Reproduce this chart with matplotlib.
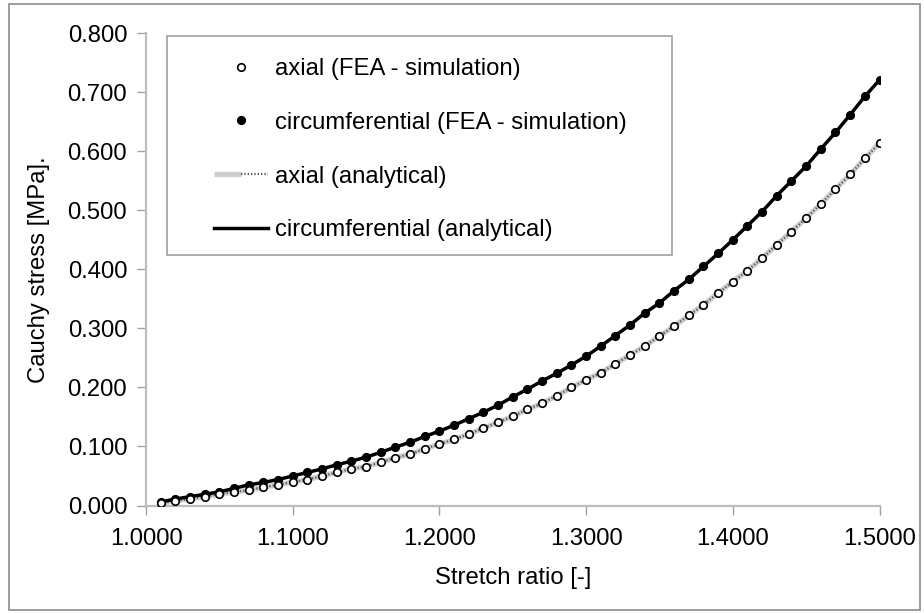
import matplotlib
matplotlib.use("Agg")
import matplotlib.pyplot as plt
from matplotlib.patches import Rectangle
from matplotlib.legend_handler import HandlerTuple
from matplotlib.ticker import FormatStrFormatter

plt.rcParams['font.family'] = ['Liberation Sans', 'DejaVu Sans']

# stretch ratio
stretch = [1.01, 1.02, 1.03, 1.04, 1.05, 1.06, 1.07, 1.08, 1.09, 1.10,
           1.11, 1.12, 1.13, 1.14, 1.15, 1.16, 1.17, 1.18, 1.19, 1.20,
           1.21, 1.22, 1.23, 1.24, 1.25, 1.26, 1.27, 1.28, 1.29, 1.30,
           1.31, 1.32, 1.33, 1.34, 1.35, 1.36, 1.37, 1.38, 1.39, 1.40,
           1.41, 1.42, 1.43, 1.44, 1.45, 1.46, 1.47, 1.48, 1.49, 1.50]

circ_fea = [0.006, 0.011, 0.015, 0.019, 0.023, 0.029, 0.035, 0.039, 0.044, 0.050,
            0.056, 0.062, 0.069, 0.075, 0.082, 0.090, 0.099, 0.107, 0.117, 0.126,
            0.136, 0.147, 0.158, 0.170, 0.184, 0.197, 0.211, 0.224, 0.238, 0.253,
            0.270, 0.288, 0.306, 0.326, 0.343, 0.364, 0.383, 0.405, 0.427, 0.450,
            0.474, 0.498, 0.525, 0.550, 0.575, 0.604, 0.632, 0.662, 0.693, 0.721]

axial_fea = [0.004, 0.008, 0.011, 0.015, 0.019, 0.023, 0.026, 0.031, 0.035, 0.040,
             0.044, 0.050, 0.056, 0.062, 0.066, 0.073, 0.081, 0.087, 0.096, 0.104,
             0.112, 0.121, 0.131, 0.141, 0.151, 0.163, 0.173, 0.186, 0.200, 0.213,
             0.225, 0.240, 0.255, 0.270, 0.287, 0.304, 0.322, 0.340, 0.360, 0.379,
             0.398, 0.419, 0.442, 0.464, 0.487, 0.511, 0.536, 0.561, 0.588, 0.614]

circ_analytical = circ_fea
axial_analytical = axial_fea

labels = ["axial (FEA - simulation)", "circumferential (FEA - simulation)",
          "axial (analytical)", "circumferential (analytical)"]

FS = 17.2
W, H = 924, 613
fig = plt.figure(figsize=(W / 100, H / 100), dpi=100)
ax = fig.add_axes([146 / W, 1 - 505.5 / H, (879.5 - 146) / W, (505.5 - 33.3) / H])

# outer chart border
fig.patches.append(Rectangle((9 / W, 1 - 610 / H), (920 - 9) / W, (610 - 4) / H,
                             transform=fig.transFigure, fill=False,
                             edgecolor='#8c8c8c', linewidth=1.2))

# analytical lines
ax_bg, = ax.plot(stretch, axial_analytical, color='#cfcfcf', lw=3.8, solid_capstyle='butt', zorder=2)
ax_dot, = ax.plot(stretch, axial_analytical, color='#5a5a5a', lw=1.6, ls=(0, (0.6, 0.9)), zorder=2.1)
circ_line, = ax.plot(stretch, circ_analytical, color='black', lw=2.5, zorder=3)

# FEA points
circ_pts, = ax.plot(stretch, circ_fea, ls='none', marker='o', ms=5.6,
                    mfc='black', mec='black', zorder=4)
axial_pts, = ax.plot(stretch, axial_fea, ls='none', marker='o', ms=5.4,
                     mfc='white', mec='black', mew=1.2, zorder=4)

ax.set_xlim(1.0, 1.5)
ax.set_ylim(0.0, 0.8)
ax.set_xticks([1.0, 1.1, 1.2, 1.3, 1.4, 1.5])
ax.set_yticks([0.0, 0.1, 0.2, 0.3, 0.4, 0.5, 0.6, 0.7, 0.8])
ax.xaxis.set_major_formatter(FormatStrFormatter('%.4f'))
ax.yaxis.set_major_formatter(FormatStrFormatter('%.3f'))
ax.tick_params(axis='both', direction='out', length=6.5, width=1.0, color='#a0a0a0',
               labelsize=FS, labelcolor='black')
ax.tick_params(axis='y', pad=7)
ax.tick_params(axis='x', pad=10)
for s in ['top', 'right']:
    ax.spines[s].set_visible(False)
for s in ['left', 'bottom']:
    ax.spines[s].set_color('#bdbdbd')
    ax.spines[s].set_linewidth(1.6)

ax.set_xlabel("Stretch ratio [-]", fontsize=FS, labelpad=12)
ax.set_ylabel("Cauchy stress [MPa].", fontsize=FS, labelpad=13)

# legend box
ax.add_patch(Rectangle(((167 - 146) / 733.5, (505.5 - 255) / 472.2),
                       (672 - 167) / 733.5, (255 - 36) / 472.2,
                       transform=ax.transAxes, fill=True, facecolor='white',
                       edgecolor='#a0a0a0', linewidth=1.2, zorder=5))

leg = ax.legend([axial_pts, circ_pts, (ax_bg, ax_dot), circ_line], labels,
                handler_map={tuple: HandlerTuple(ndivide=None, pad=0)},
                loc='upper left',
                bbox_to_anchor=((214 - 146) / 733.5, (505.5 - 58) / 472.2),
                frameon=False, fontsize=FS, borderpad=0, borderaxespad=0,
                handlelength=2.25, handletextpad=0.3, labelspacing=1.33)
leg.set_zorder(6)

fig.savefig("out.png", dpi=100, facecolor='white')
